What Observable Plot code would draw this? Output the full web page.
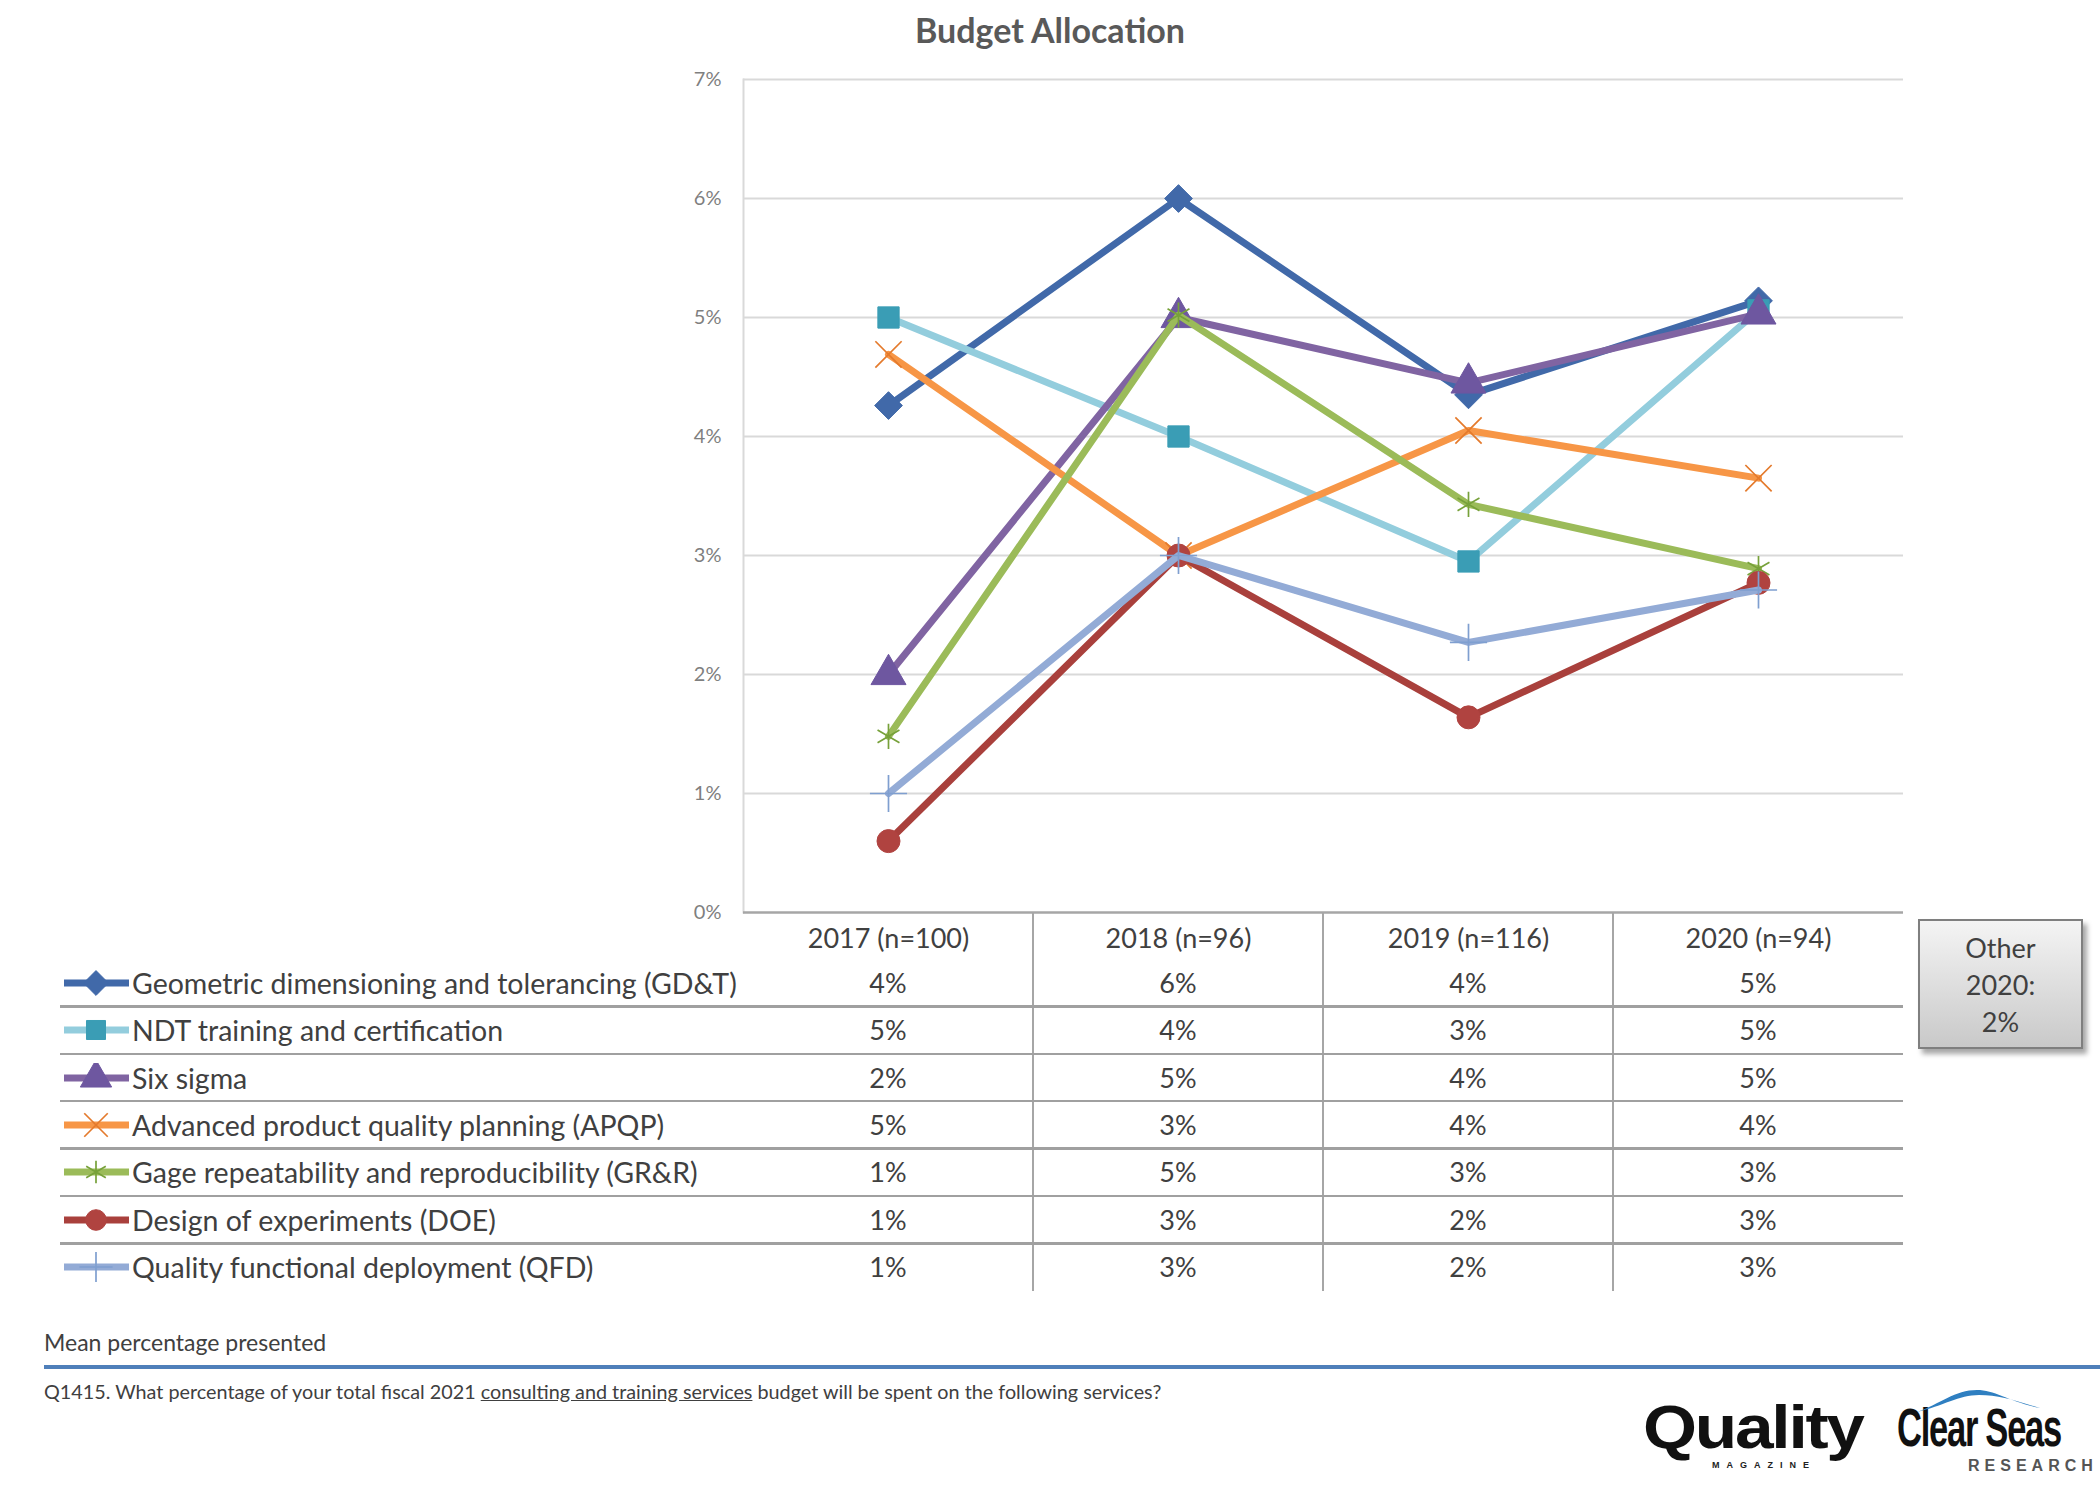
<!DOCTYPE html>
<html><head><meta charset="utf-8">
<script src="https://cdn.jsdelivr.net/npm/d3@7"></script>
<script src="https://cdn.jsdelivr.net/npm/@observablehq/plot@0.6"></script>
<style>
body{margin:0;background:#fff;width:2100px;height:1485px;position:relative;overflow:hidden;font-family:Lato,"Open Sans",sans-serif;color:#404040}
.abs{position:absolute;white-space:nowrap}
#title{left:0;width:2100px;top:9px;text-align:center;font-weight:bold;font-size:34px;color:#595959}
.cell{position:absolute;text-align:center;font-size:27px;color:#404040;line-height:30px;white-space:nowrap}
.lab{position:absolute;font-size:28.5px;color:#404040;line-height:30px;white-space:nowrap}
.hl{position:absolute;height:2.5px;background:#a0a0a0}
.vl{position:absolute;width:2px;background:#a6a6a6}
.logo{line-height:1}
#other{left:1918px;top:919px;border:2px solid #7f7f7f;background:linear-gradient(#f4f4f4,#c9c9c9);box-shadow:4px 5px 5px rgba(0,0,0,0.35);text-align:center;font-size:27px;line-height:37px;color:#404040;padding-top:8px;box-sizing:border-box;height:130px;width:165px}
</style></head><body>
<div id="title" class="abs">Budget Allocation</div>
<div id="chart" class="abs" style="left:0;top:0"></div>
<div id="table" class="abs" style="left:0;top:0;width:2100px;height:1485px"></div>
<div id="other" class="abs"></div>
<div class="abs" style="left:44px;top:1328px;font-size:23px;color:#404040">Mean percentage presented</div>
<div class="abs" style="left:44px;top:1365px;width:2056px;height:3.5px;background:#4f7fba"></div>
<div class="abs" style="left:44px;top:1379px;font-size:19.8px;color:#404040">Q1415. What percentage of your total fiscal 2021 <span style="text-decoration:underline">consulting and training services</span> budget will be spent on the following services?</div>
<div class="abs logo" style="left:1643px;top:1396px;font:bold 62px/1 'Liberation Sans',Arial,sans-serif;letter-spacing:-2px;color:#111;transform:scaleX(1.12);transform-origin:left">Quality</div>
<div class="abs logo" style="left:1712px;top:1461px;font:bold 9px/1 'Liberation Sans',Arial,sans-serif;letter-spacing:7px;color:#222">MAGAZINE</div>
<div class="abs logo" style="left:1897px;top:1400px;font:bold 54px/1 'Liberation Sans',Arial,sans-serif;letter-spacing:-2px;color:#111;transform:scaleX(0.64);transform-origin:left">Clear Seas</div>
<div class="abs logo" style="left:1968px;top:1458px;font:bold 16px/1 'Liberation Sans',Arial,sans-serif;letter-spacing:5px;color:#555">RESEARCH</div>
<svg class="abs" style="left:1915px;top:1386px" width="130" height="30"><path d="M2,26 C25,18 40,4 62,4 C80,4 95,16 125,22 C98,14 84,9 64,9 C44,9 28,20 2,26Z" fill="#2f7fc1"/></svg>
<script>
// ---- data ----
const years = ["2017 (n=100)", "2018 (n=96)", "2019 (n=116)", "2020 (n=94)"];
const services = [
  "Geometric dimensioning and tolerancing (GD&T)",
  "NDT training and certification",
  "Six sigma",
  "Advanced product quality planning (APQP)",
  "Gage repeatability and reproducibility (GR&R)",
  "Design of experiments (DOE)",
  "Quality functional deployment (QFD)"
];
const gdt      = [4.26, 6.00, 4.35, 5.14];
const ndt      = [5.00, 4.00, 2.95, 5.06];
const sixSigma = [2.00, 5.00, 4.45, 5.03];
const apqp     = [4.69, 3.00, 4.05, 3.65];
const grr      = [1.48, 5.02, 3.43, 2.89];
const doe      = [0.60, 3.00, 1.64, 2.77];
const qfd      = [1.00, 3.00, 2.27, 2.71];
const yTicks   = [0, 1, 2, 3, 4, 5, 6, 7];
const otherLabel = ["Other", "2020:", "2%"];

const seriesValues = [gdt, ndt, sixSigma, apqp, grr, doe, qfd];

// ---- styles ----
const styles = [
  {line: "#4169a9", marker: "#4169a9", symbol: "diamond2", d3sym: d3.symbolDiamond2, filled: true, r: 12.5},
  {line: "#93cddd", marker: "#3a9db5", symbol: "square", d3sym: d3.symbolSquare, filled: true, r: 12},
  {line: "#8064a2", marker: "#6e57a0", symbol: "triangle", d3sym: d3.symbolTriangle, filled: true, r: 13},
  {line: "#f79646", marker: "#e47a2c", symbol: "times", d3sym: d3.symbolTimes, filled: false, r: 12},
  {line: "#9bbb59", marker: "#77a13a", symbol: "asterisk", d3sym: d3.symbolAsterisk, filled: false, r: 12},
  {line: "#a9403c", marker: "#b04340", symbol: "circle", d3sym: d3.symbolCircle, filled: true, r: 11.5},
  {line: "#93abd6", marker: "#7f9fd0", symbol: "plus", d3sym: d3.symbolPlus, filled: false, r: 12}
];

const rows = services.map((s, i) => seriesValues[i].map((v, j) => ({service: s, year: years[j], value: v})));

const marks = [
  Plot.gridY(yTicks.slice(1), {stroke: "#d9d9d9", strokeWidth: 2, strokeOpacity: 1}),
  Plot.frame({anchor: "left", stroke: "#d9d9d9", strokeWidth: 2}),
  Plot.ruleY([0], {stroke: "#a6a6a6", strokeWidth: 2.5}),
  Plot.axisY({ticks: yTicks, tickFormat: d => d + "%", tickSize: 0, tickPadding: 22, fontSize: 20, color: "#7f7f7f", label: null}),
  Plot.axisX({tickSize: 0, tickPadding: 16, fontSize: 27, color: "#404040", label: null})
];
rows.forEach((data, i) => {
  const st = styles[i];
  marks.push(Plot.line(data, {x: "year", y: "value", stroke: st.line, strokeWidth: 7, strokeLinejoin: "round"}));
  marks.push(Plot.dot(data, {x: "year", y: "value", symbol: st.symbol, r: st.r,
    fill: st.filled ? st.marker : "none", stroke: st.marker, strokeWidth: st.filled ? 1 : 1.7}));
});

const chart = Plot.plot({
  width: 2100, height: 960,
  marginTop: 79, marginBottom: 48, marginLeft: 743, marginRight: 197,
  x: {type: "band", domain: years, paddingInner: 0, paddingOuter: 0},
  y: {domain: [0, 7]},
  style: {fontFamily: "Lato, 'Open Sans', sans-serif", background: "transparent", overflow: "visible"},
  marks
});
document.getElementById("chart").appendChild(chart);

// ---- data table below the chart (columns aligned on the plot's x scale) ----
const xs = chart.scale("x");
const bw = xs.bandwidth;
const tbl = document.getElementById("table");
const rowTop0 = 959, rowH = 47.4;
const tableLeft = 60, tableRight = xs.apply(years[years.length - 1]) + bw;
const fmt = v => Math.round(v) + "%";
function el(cls, css, html) {
  const d = document.createElement("div"); d.className = cls;
  Object.assign(d.style, css); if (html != null) d.innerHTML = html; tbl.appendChild(d); return d;
}
years.slice(1).forEach(y => {
  el("vl", {left: (xs.apply(y) - 1) + "px", top: "912px", height: (rowTop0 + rowH * services.length - 912) + "px"});
});
services.forEach((s, i) => {
  const top = rowTop0 + i * rowH;
  const st = styles[i];
  if (i < services.length - 1) el("hl", {left: tableLeft + "px", width: (tableRight - tableLeft) + "px", top: (top + rowH - 1.25) + "px"});
  const sw = d3.create("svg").attr("width", 70).attr("height", 30)
    .style("position", "absolute").style("left", "62px").style("top", (top + rowH / 2 - 15) + "px");
  sw.append("line").attr("x1", 2).attr("x2", 67).attr("y1", 15).attr("y2", 15)
    .attr("stroke", st.line).attr("stroke-width", 7);
  sw.append("path").attr("transform", "translate(34,15)")
    .attr("d", d3.symbol(st.d3sym, Math.PI * st.r * st.r * 0.8)())
    .attr("fill", st.filled ? st.marker : "none").attr("stroke", st.marker).attr("stroke-width", st.filled ? 1 : 1.7);
  tbl.appendChild(sw.node());
  el("lab", {left: "132px", top: (top + rowH / 2 - 15) + "px"}, s.replace(/&/g, "&amp;"));
  seriesValues[i].forEach((v, j) => {
    el("cell", {left: xs.apply(years[j]) + "px", width: bw + "px", top: (top + rowH / 2 - 15) + "px"}, fmt(v));
  });
});
document.getElementById("other").innerHTML = otherLabel.join("<br>");
</script>
</body></html>
